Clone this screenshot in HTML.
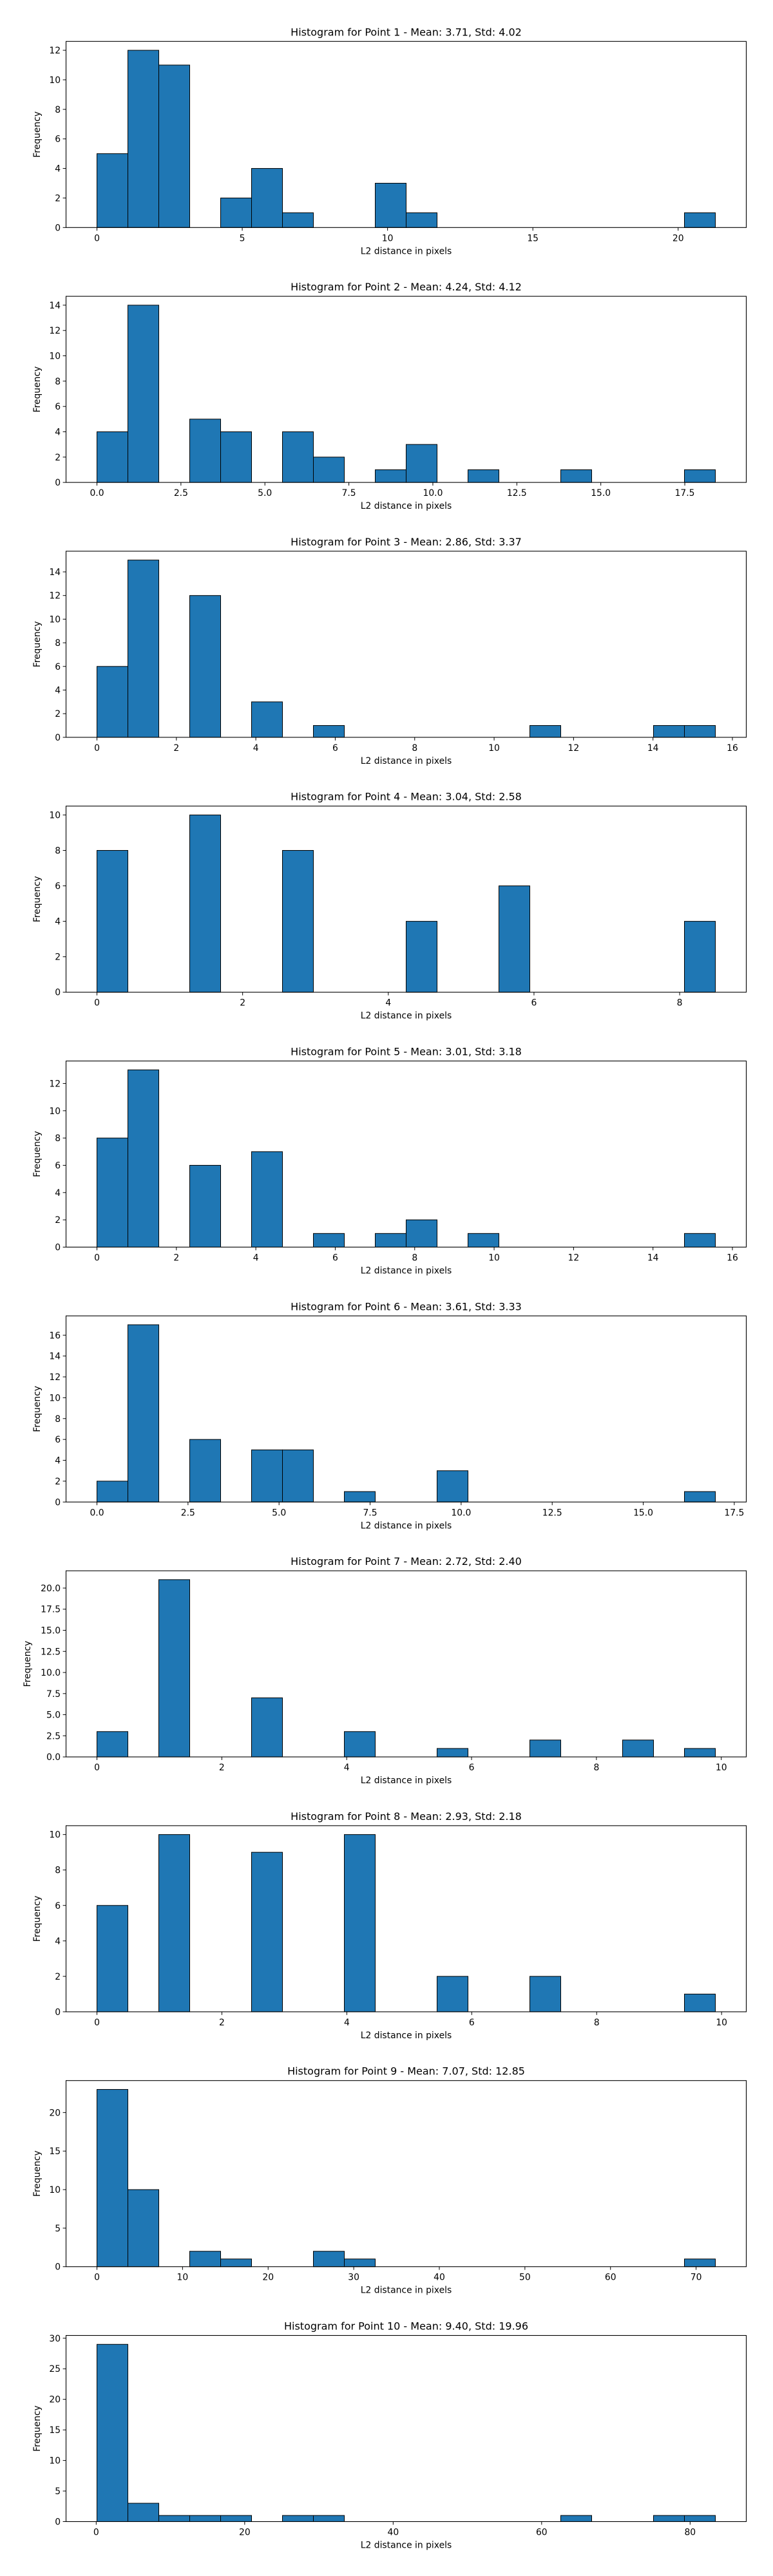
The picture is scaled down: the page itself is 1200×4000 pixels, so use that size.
<!DOCTYPE html>
<html><head><meta charset="utf-8">
<style>
html,body{margin:0;padding:0;background:#fff;}
svg{display:block;}
text{font-family:"DejaVu Sans","Liberation Sans",sans-serif;fill:#000;}
</style></head>
<body>
<svg id="fig" width="1200" height="4000" viewBox="0 0 1200 4000" xmlns="http://www.w3.org/2000/svg"></svg>
<script>
// Data per subplot
const titles = [
  "Histogram for Point 1 - Mean: 3.71, Std: 4.02",
  "Histogram for Point 2 - Mean: 4.24, Std: 4.12",
  "Histogram for Point 3 - Mean: 2.86, Std: 3.37",
  "Histogram for Point 4 - Mean: 3.04, Std: 2.58",
  "Histogram for Point 5 - Mean: 3.01, Std: 3.18",
  "Histogram for Point 6 - Mean: 3.61, Std: 3.33",
  "Histogram for Point 7 - Mean: 2.72, Std: 2.40",
  "Histogram for Point 8 - Mean: 2.93, Std: 2.18",
  "Histogram for Point 9 - Mean: 7.07, Std: 12.85",
  "Histogram for Point 10 - Mean: 9.40, Std: 19.96"
];
const dataMin = [0, 0, 0, 0, 0, 0, 0, 0, 0, 0.1];
const dataMax = [21.28, 18.41, 15.57, 8.49, 15.57, 16.98, 9.905, 9.9, 72.25, 83.4];
const counts1 = [5,12,11,0,2,4,1,0,0,3,1,0,0,0,0,0,0,0,0,1];
const counts2 = [4,14,0,5,4,0,4,2,0,1,3,0,1,0,0,1,0,0,0,1];
const counts3 = [6,15,0,12,0,3,0,1,0,0,0,0,0,0,1,0,0,0,1,1];
const counts4 = [8,0,0,10,0,0,8,0,0,0,4,0,0,6,0,0,0,0,0,4];
const counts5 = [8,13,0,6,0,7,0,1,0,1,2,0,1,0,0,0,0,0,0,1];
const counts6 = [2,17,0,6,0,5,5,0,1,0,0,3,0,0,0,0,0,0,0,1];
const counts7 = [3,0,21,0,0,7,0,0,3,0,0,1,0,0,2,0,0,2,0,1];
const counts8 = [6,0,10,0,0,9,0,0,10,0,0,2,0,0,2,0,0,0,0,1];
const counts9 = [23,10,0,2,1,0,0,2,1,0,0,0,0,0,0,0,0,0,0,1];
const counts10 = [29,3,1,1,1,0,1,1,0,0,0,0,0,0,0,1,0,0,1,1];
const allCounts = [counts1,counts2,counts3,counts4,counts5,counts6,counts7,counts8,counts9,counts10];
const xTickStep = [5, 2.5, 2, 2, 2, 2.5, 2, 2, 10, 20];
const xTickDecimals = [0, 1, 0, 0, 0, 1, 0, 0, 0, 0];
const yTickStep = [2, 2, 2, 2, 2, 2, 2.5, 2, 5, 5];
const yTickDecimals = [0, 0, 0, 0, 0, 0, 1, 0, 0, 0];

const NS = "http://www.w3.org/2000/svg";
const svg = document.getElementById('fig');
const AX_L = 102.5, AX_R = 1158.5, AX_H = 289, TOP0 = 64.3, PERIOD = 395.8;

function mk(tag, attrs, parent) {
  const e = document.createElementNS(NS, tag);
  for (const k in attrs) e.setAttribute(k, attrs[k]);
  (parent || svg).appendChild(e);
  return e;
}

for (let k = 0; k < 10; k++) {
  const counts = allCounts[k];
  const mn = dataMin[k], mx = dataMax[k];
  const nb = counts.length;
  const span = mx - mn;
  const x0 = mn - 0.05 * span, x1 = mx + 0.05 * span;
  const ymax = Math.max(...counts) * 1.05;
  const top = TOP0 + k * PERIOD, bot = top + AX_H;
  const xs = v => AX_L + (v - x0) / (x1 - x0) * (AX_R - AX_L);
  const ys = v => bot - v / ymax * AX_H;

  const g = mk('g', {});
  
  

  const t = mk('text', {x: (AX_L + AX_R) / 2, y: top - 9, 'text-anchor': 'middle', 'font-size': '16'}, g);
  t.textContent = titles[k];
  
  

  const bw = span / nb;
  for (let i = 0; i < nb; i++) {
    const a = xs(mn + i * bw), b = xs(mn + (i + 1) * bw);
    const h = counts[i];
    const r = mk('rect', {x: a, y: ys(h), width: b - a, height: bot - ys(h), fill: '#1f77b4', stroke: '#000', 'stroke-width': 1}, g);
    
    
  }

  const frame = mk('rect', {x: AX_L, y: top, width: AX_R - AX_L, height: AX_H, fill: 'none', stroke: '#000', 'stroke-width': 1.1}, g);
  
  

  // x ticks
  const xStep = xTickStep[k];
  for (let v = Math.ceil(x0 / xStep) * xStep; v <= x1 + 1e-9; v += xStep) {
    const px = xs(v);
    mk('line', {x1: px, x2: px, y1: bot, y2: bot + 4.9, stroke: '#000', 'stroke-width': 1}, g);
    const tl = mk('text', {x: px, y: bot + 21, 'text-anchor': 'middle', 'font-size': '13.9'}, g);
    tl.textContent = (Math.abs(v) < 1e-9 ? 0 : v).toFixed(xTickDecimals[k]);
    
    
  }
  // y ticks
  const yStep = yTickStep[k];
  for (let v = 0; v <= ymax + 1e-9; v += yStep) {
    const py = ys(v);
    mk('line', {x1: AX_L - 4.9, x2: AX_L, y1: py, y2: py, stroke: '#000', 'stroke-width': 1}, g);
    const tl = mk('text', {x: AX_L - 8.4, y: py + 5, 'text-anchor': 'end', 'font-size': '13.9'}, g);
    tl.textContent = v.toFixed(yTickDecimals[k]);
    
    
  }
  const xl = mk('text', {x: (AX_L + AX_R) / 2, y: bot + 41, 'text-anchor': 'middle', 'font-size': '13.9'}, g);
  xl.textContent = 'L2 distance in pixels';
  
  

  const ylx = k === 6 ? 47 : 62;
  const yl = mk('text', {x: ylx, y: (top + bot) / 2, 'text-anchor': 'middle', 'font-size': '13.9', transform: 'rotate(-90 ' + ylx + ' ' + ((top + bot) / 2) + ')'}, g);
  yl.textContent = 'Frequency';
  
  
}
</script>
</body></html>
